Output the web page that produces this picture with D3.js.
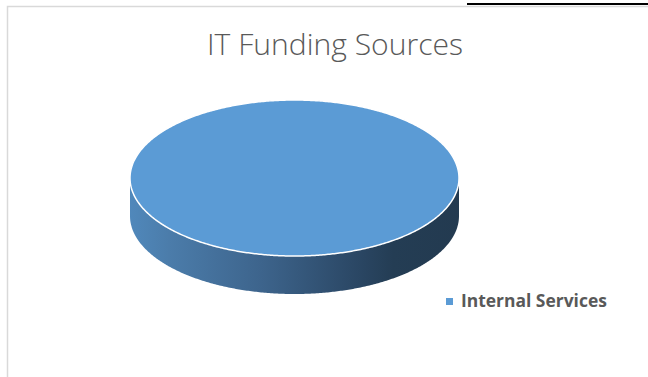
<!DOCTYPE html>
<html>
<head>
<meta charset="utf-8">
<script src="https://cdn.jsdelivr.net/npm/d3@7/dist/d3.min.js"></script>
<style>
  html, body { margin: 0; padding: 0; background: #fff; }
  svg { display: block; }
</style>
</head>
<body>
<svg id="chart" width="648" height="377"></svg>
<script>
// Chart data
const title = "IT Funding Sources";
const categories = ["Internal Services"];
const values = [100];
const colors = ["#5B9BD5"];

const W = 648, H = 377;
const svg = d3.select("#chart");

// Chart frame
svg.append("rect")
  .attr("x", 7.5).attr("y", 6.5)
  .attr("width", W + 10).attr("height", H + 10)
  .attr("fill", "#fff")
  .attr("stroke", "#d9d9d9").attr("stroke-width", 1.5);
svg.append("line")
  .attr("x1", 467).attr("x2", W).attr("y1", 4).attr("y2", 4)
  .attr("stroke", "#000").attr("stroke-width", 2);

// Title
const titleText = svg.append("text")
  .attr("x", 335).attr("y", 55)
  .attr("text-anchor", "middle")
  .attr("font-family", "'Open Sans', 'Liberation Sans', sans-serif")
  .attr("font-weight", 300)
  .attr("font-size", 25)
  .attr("fill", "#595959")
  .text(title);
{
  const w = titleText.node().getComputedTextLength();
  titleText.attr("font-size", 25 * 256 / w);
}

// 3D pie geometry
const cx = 294.5, cy = 178, rx = 164.5, ry = 78, depth = 38;
const pie = d3.pie().sort(null).value(d => d)(values);

const pt = (a, dy = 0) => [cx + rx * Math.sin(a), cy - ry * Math.cos(a) + dy];
const line = d3.line();
const arcPoints = (a0, a1, dy = 0) => {
  const n = Math.max(2, Math.ceil(Math.abs(a1 - a0) / 0.01));
  return d3.range(n + 1).map(i => pt(a0 + (a1 - a0) * i / n, dy));
};

// Side shading gradient
const defs = svg.append("defs");
const grad = defs.append("linearGradient")
  .attr("id", "sideGrad")
  .attr("gradientUnits", "userSpaceOnUse")
  .attr("x1", cx - rx).attr("x2", cx + rx).attr("y1", 0).attr("y2", 0);
[[0, "#5088bb"], [0.12, "#4b7caa"], [0.4, "#3d648c"], [0.7, "#2a4663"], [0.8, "#243d54"], [1, "#233a50"]]
  .forEach(([o, c]) => grad.append("stop").attr("offset", o).attr("stop-color", c));

// Outer side: only the front-facing part (3 o'clock to 9 o'clock)
pie.forEach(d => {
  const a0 = Math.max(d.startAngle, Math.PI / 2);
  const a1 = Math.min(d.endAngle, 3 * Math.PI / 2);
  if (a1 <= a0) return;
  const pts = arcPoints(a0, a1).concat(arcPoints(a1, a0, depth));
  svg.append("path")
    .attr("d", line(pts) + "Z")
    .attr("fill", "url(#sideGrad)");
});

// Top faces
pie.forEach((d, i) => {
  const full = d.endAngle - d.startAngle >= 2 * Math.PI - 1e-6;
  const pts = full ? arcPoints(d.startAngle, d.endAngle)
                   : [[cx, cy]].concat(arcPoints(d.startAngle, d.endAngle));
  svg.append("path")
    .attr("d", line(pts) + "Z")
    .attr("fill", colors[i])
    .attr("stroke", "#fff")
    .attr("stroke-width", 1.5)
    .attr("stroke-linejoin", "round");
});

// Legend
const legend = svg.append("g");
categories.forEach((c, i) => {
  legend.append("rect")
    .attr("x", 446).attr("y", 298 + i * 20)
    .attr("width", 7).attr("height", 7)
    .attr("fill", colors[i]);
  const t = legend.append("text")
    .attr("x", 461).attr("y", 307 + i * 20)
    .attr("font-family", "'Open Sans', 'Liberation Sans', sans-serif")
    .attr("font-weight", 700)
    .attr("font-size", 15)
    .attr("fill", "#595959")
    .text(c);
  const w = t.node().getComputedTextLength();
  t.attr("font-size", 15 * 146 / w);
});
</script>
</body>
</html>
